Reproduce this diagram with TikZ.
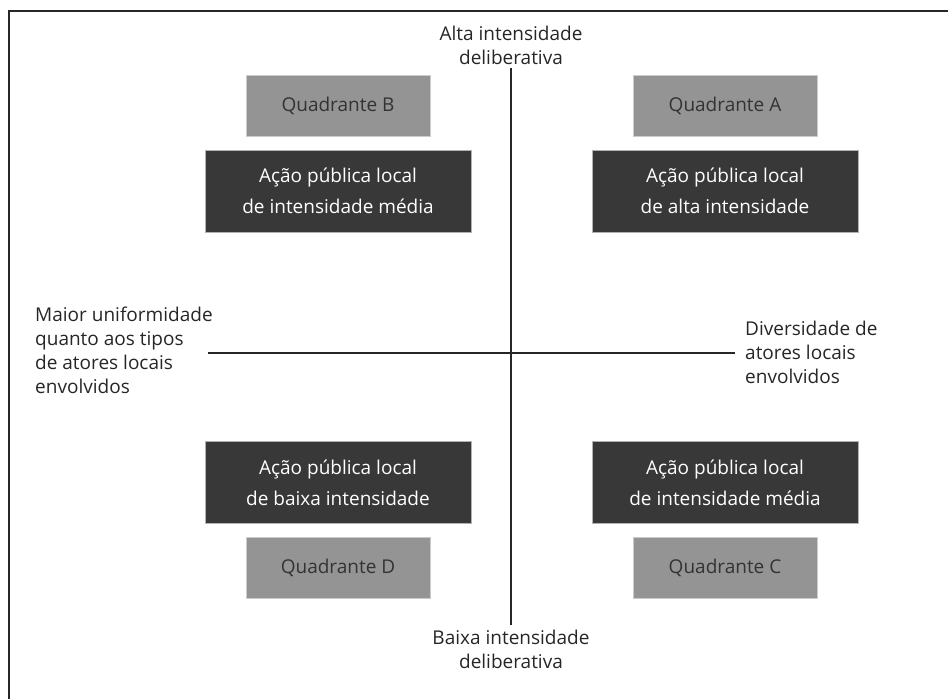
\documentclass[tikz,border=0pt]{standalone}
\usepackage{fontspec}
\setmainfont{Open Sans}
\begin{document}
\begin{tikzpicture}[x=1pt,y=-1pt,
  lbl/.style={font=\fontsize{19}{24}\selectfont, text=black!85, inner sep=0pt, align=left},
  quad/.style={fill=black!42, draw=black!20, line width=0.6pt, minimum width=184pt, minimum height=61pt, inner sep=0pt, text=black!80, font=\fontsize{19}{24}\selectfont},
  acao/.style={fill=black!78, draw=black!30, line width=0.6pt, minimum width=266pt, minimum height=82pt, inner sep=0pt, text=white, align=center, font=\fontsize{19}{31}\selectfont},
  axis/.style={line width=1.8pt, draw=black!85}]
\useasboundingbox (0,0) rectangle (948,699);
\draw[line width=2pt, black!85] (9,699) -- (9,11) -- (948,11);
% quadrants
\node[quad] (qb) at (338,105.5) {Quadrante B};
\node[quad] (qa) at (725,105.5) {Quadrante A};
\node[acao] (ab) at (338,191) {Ação pública local\\de intensidade média};
\node[acao] (aa) at (725,191) {Ação pública local\\de alta intensidade};
\node[acao] (ad) at (338,482.5) {Ação pública local\\de baixa intensidade};
\node[acao] (ac) at (725,482.5) {Ação pública local\\de intensidade média};
\node[quad] (qd) at (338,567.5) {Quadrante D};
\node[quad] (qc) at (725,567.5) {Quadrante C};
% axes labels
\node[lbl, align=center, anchor=center] (top) at (511,45) {Alta intensidade\\deliberativa};
\node[lbl, align=center, anchor=center] (bot) at (511,649) {Baixa intensidade\\deliberativa};
\node[lbl, anchor=west] (left) at (35,350) {Maior uniformidade\\quanto aos tipos\\de atores locais\\envolvidos};
\node[lbl, anchor=west] (right) at (745,352) {Diversidade de\\atores locais\\envolvidos};
\coordinate (vt) at (511,68);
\coordinate (vb) at (511,625);
\coordinate (hl) at (208,353);
\coordinate (hr) at (735,353);
\draw[axis] (vt) -- (vb);
\draw[axis] (hl) -- (hr);
\end{tikzpicture}
\end{document}
